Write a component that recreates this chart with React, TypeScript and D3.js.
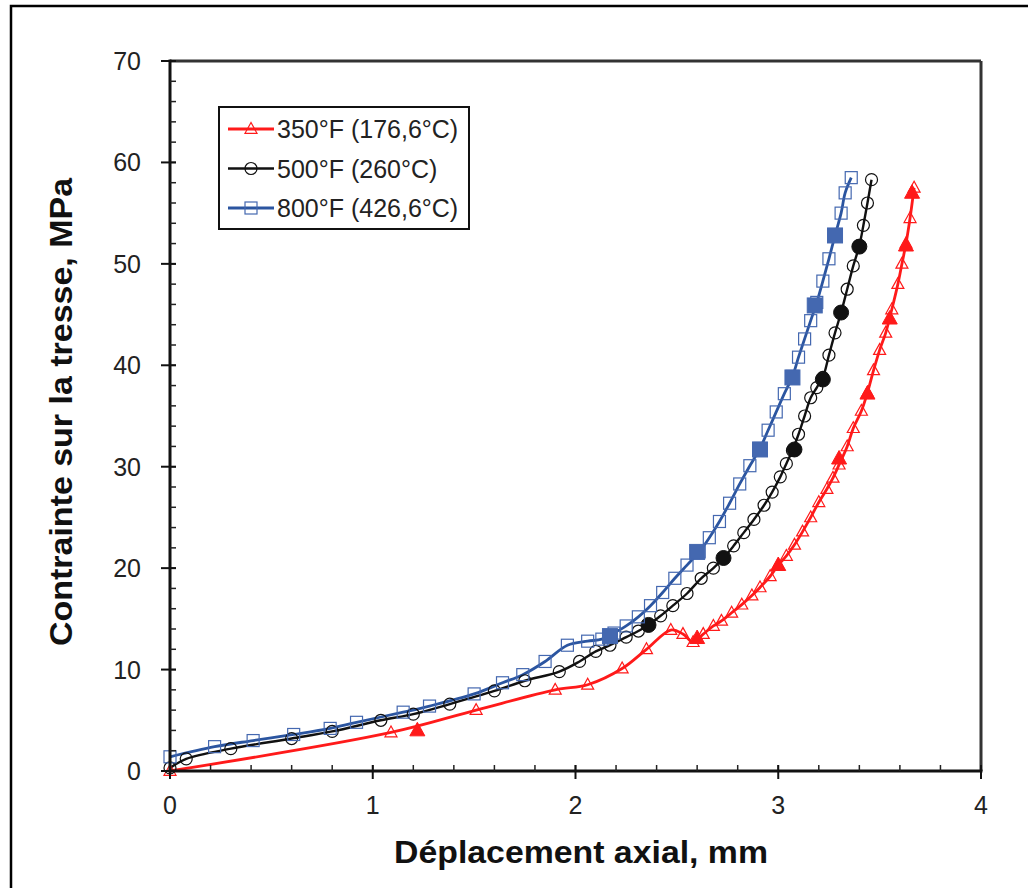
import React from "react";
import * as d3 from "d3";

// ---- Data ----
const xTicks = [0, 1, 2, 3, 4];
const yTicks = [0, 10, 20, 30, 40, 50, 60, 70];
const xTitle = "Déplacement axial, mm";
const yTitle = "Contrainte sur la tresse, MPa";
const seriesNames = ["350°F (176,6°C)", "500°F (260°C)", "800°F (426,6°C)"];

const red350Open: [number, number][] = [
  [0, 0], [1.09, 3.8], [1.51, 6.0], [1.9, 8.0], [2.06, 8.5], [2.23, 10.1], [2.35, 12.0],
  [2.47, 13.9], [2.53, 13.5], [2.58, 12.7], [2.63, 13.5], [2.68, 14.3], [2.72, 14.8],
  [2.77, 15.6], [2.82, 16.4], [2.87, 17.3], [2.91, 18.1], [2.96, 19.2], [3.0, 20.3],
  [3.04, 21.2], [3.08, 22.3], [3.12, 23.6], [3.16, 25.0], [3.2, 26.5], [3.24, 27.8],
  [3.27, 28.9], [3.3, 30.2], [3.34, 32.0], [3.37, 33.8], [3.41, 35.5], [3.44, 37.3],
  [3.47, 39.5], [3.5, 41.5], [3.53, 43.2], [3.56, 45.5], [3.59, 48.0], [3.61, 50.0],
  [3.63, 52.0], [3.65, 54.5], [3.67, 57.5],
];
const red350Filled: [number, number][] = [
  [1.22, 4.0], [2.6, 13.1], [3.0, 20.3], [3.3, 30.8], [3.44, 37.2], [3.55, 44.6], [3.63, 51.8], [3.66, 57.0],
];

const black500Open: [number, number][] = [
  [0, 0.3], [0.08, 1.2], [0.3, 2.2], [0.6, 3.2], [0.8, 3.9], [1.04, 5.0], [1.2, 5.6],
  [1.38, 6.6], [1.6, 7.9], [1.75, 8.9], [1.92, 9.8], [2.02, 10.8], [2.1, 11.8], [2.17, 12.4],
  [2.25, 13.2], [2.31, 13.8], [2.36, 14.4], [2.42, 15.3], [2.48, 16.3], [2.55, 17.5],
  [2.62, 19.0], [2.68, 20.0], [2.73, 21.0], [2.78, 22.2], [2.83, 23.5], [2.88, 24.8],
  [2.93, 26.2], [2.97, 27.5], [3.01, 29.0], [3.04, 30.3], [3.07, 31.6], [3.1, 33.2],
  [3.13, 35.0], [3.16, 36.8], [3.19, 37.8], [3.22, 38.8], [3.25, 41.0], [3.28, 43.2],
  [3.31, 45.2], [3.34, 47.5], [3.37, 49.8], [3.4, 51.8], [3.42, 53.8], [3.44, 56.0], [3.46, 58.3],
];
const black500Filled: [number, number][] = [
  [2.36, 14.4], [2.73, 21.0], [3.08, 31.7], [3.22, 38.6], [3.31, 45.2], [3.4, 51.7],
];

const blue800Open: [number, number][] = [
  [0, 1.4], [0.22, 2.4], [0.41, 3.0], [0.61, 3.6], [0.79, 4.2], [0.92, 4.8], [1.15, 5.8],
  [1.28, 6.4], [1.5, 7.6], [1.64, 8.7], [1.74, 9.5], [1.85, 10.8], [1.96, 12.4], [2.06, 12.8],
  [2.13, 13.0], [2.19, 13.6], [2.25, 14.3], [2.31, 15.2], [2.37, 16.3], [2.43, 17.6],
  [2.49, 19.0], [2.55, 20.3], [2.61, 21.6], [2.66, 23.0], [2.71, 24.6], [2.76, 26.4],
  [2.81, 28.3], [2.86, 30.1], [2.91, 31.8], [2.95, 33.6], [2.99, 35.4], [3.03, 37.2],
  [3.07, 38.9], [3.1, 40.8], [3.13, 42.6], [3.16, 44.4], [3.19, 46.2], [3.22, 48.3],
  [3.25, 50.5], [3.28, 52.8], [3.31, 55.0], [3.33, 57.0], [3.36, 58.5],
];
const blue800Filled: [number, number][] = [
  [2.17, 13.3], [2.6, 21.6], [2.91, 31.7], [3.07, 38.8], [3.18, 45.9], [3.28, 52.8],
];

// ---- Layout ----
const W = 1028, H = 888;
const x = d3.scaleLinear().domain([0, 4]).range([170, 981]);
const y = d3.scaleLinear().domain([0, 70]).range([771, 61]);

const RED = "#ff1a1a";
const BLACK = "#111111";
const BLUE = "#2b55a0";
const BLUE_MK = "#4468b0";

type Shape = "tri" | "circ" | "sq";

function Marker({ cx, cy, shape, color, size, filled }: { cx: number; cy: number; shape: Shape; color: string; size: number; filled: boolean }) {
  const fill = filled ? color : "none";
  const sw = filled ? 1 : 1.2;
  if (shape === "tri") {
    const h = size * 0.9;
    const pts = `${cx},${cy - h * 0.6} ${cx - size / 2},${cy + h * 0.4} ${cx + size / 2},${cy + h * 0.4}`;
    return <polygon points={pts} fill={fill} stroke={color} strokeWidth={sw} />;
  }
  if (shape === "circ") return <circle cx={cx} cy={cy} r={size / 2} fill={fill} stroke={color} strokeWidth={sw} />;
  return <rect x={cx - size / 2} y={cy - size / 2} width={size} height={size} fill={fill} stroke={color} strokeWidth={sw} />;
}

const series = [
  { name: seriesNames[0], open: red350Open, filled: red350Filled, line: RED, mk: RED, shape: "tri" as Shape, lw: 2.8 },
  { name: seriesNames[1], open: black500Open, filled: black500Filled, line: BLACK, mk: BLACK, shape: "circ" as Shape, lw: 2.4 },
  { name: seriesNames[2], open: blue800Open, filled: blue800Filled, line: BLUE, mk: BLUE_MK, shape: "sq" as Shape, lw: 2.8 },
];

export default function App() {
  const lineGen = d3.line<[number, number]>().x((d) => x(d[0])).y((d) => y(d[1])).curve(d3.curveCatmullRom.alpha(0.5));
  const xMinor = d3.range(0, 4.0001, 0.2);
  const yMinor = d3.range(0, 70.0001, 2);
  const font = "'Liberation Sans', Arial, sans-serif";
  const [x0, x1] = x.range();
  const [y0, y1] = y.range();
  return (
    <svg width={W} height={H} style={{ position: "absolute", left: 0, top: 0, background: "#fff" }} fontFamily={font}>
      <rect x={0} y={0} width={W} height={H} fill="#fff" />
      {/* outer frame */}
      <rect x={11} y={6} width={W + 20} height={H + 20} fill="none" stroke="#000" strokeWidth={2.5} />

      {/* series lines */}
      {series.map((s) => (
        <path key={s.name + "l"} d={lineGen(s.open) || ""} fill="none" stroke={s.line} strokeWidth={s.lw} />
      ))}
      {series.map((s) => (
        <g key={s.name + "m"}>
          {s.open.map((d, i) => (
            <Marker key={i} cx={x(d[0])} cy={y(d[1])} shape={s.shape} color={s.mk} size={12} filled={false} />
          ))}
          {s.filled.map((d, i) => (
            <Marker key={"f" + i} cx={x(d[0])} cy={y(d[1])} shape={s.shape} color={s.mk} size={15} filled={true} />
          ))}
        </g>
      ))}

      {/* plot frame */}
      <line x1={x0} x2={x1} y1={y1} y2={y1} stroke="#333" strokeWidth={3} />
      <line x1={x1} x2={x1} y1={y1} y2={y0} stroke="#333" strokeWidth={3} />
      <line x1={x0} x2={x0} y1={y0 + 1.5} y2={y1 - 1.5} stroke="#111" strokeWidth={3} />
      <line x1={x0 - 1.5} x2={x1 + 1.5} y1={y0} y2={y0} stroke="#111" strokeWidth={3} />

      {/* minor ticks (inside) */}
      {xMinor.map((v, i) => (
        <line key={"xm" + i} x1={x(v)} x2={x(v)} y1={y0} y2={y0 - 6} stroke="#222" strokeWidth={1.5} />
      ))}
      {yMinor.map((v, i) => (
        <line key={"ym" + i} x1={x0} x2={x0 + 6} y1={y(v)} y2={y(v)} stroke="#222" strokeWidth={1.5} />
      ))}
      {/* major ticks */}
      {xTicks.map((v) => (
        <g key={"xt" + v}>
          <line x1={x(v)} x2={x(v)} y1={y0 - 6} y2={y0 + 8} stroke="#111" strokeWidth={2} />
          <text x={x(v)} y={y0 + 43} textAnchor="middle" fontSize={25} fill="#222">{v}</text>
        </g>
      ))}
      {yTicks.map((v) => (
        <g key={"yt" + v}>
          <line x1={x0 - 9} x2={x0 + 6} y1={y(v)} y2={y(v)} stroke="#111" strokeWidth={2} />
          <text x={x0 - 29} y={y(v) + 9} textAnchor="end" fontSize={25} fill="#222">{v}</text>
        </g>
      ))}

      {/* axis titles */}
      <text x={581} y={863} textAnchor="middle" fontSize={32} fontWeight="bold" fill="#111" textLength={374} lengthAdjust="spacingAndGlyphs">{xTitle}</text>
      <text transform={`translate(72,412) rotate(-90)`} textAnchor="middle" fontSize={32} fontWeight="bold" fill="#111" textLength={468} lengthAdjust="spacingAndGlyphs">{yTitle}</text>

      {/* legend */}
      <rect x={219} y={107} width={250} height={122} fill="#fff" stroke="#111" strokeWidth={2} />
      {series.map((s, i) => {
        const ly = 129 + i * 39.5;
        return (
          <g key={"lg" + i}>
            <line x1={228} x2={274} y1={ly} y2={ly} stroke={s.line} strokeWidth={s.lw} />
            <Marker cx={251} cy={ly} shape={s.shape} color={s.mk} size={12} filled={false} />
            <text x={277} y={ly + 9} fontSize={25} fill="#222">{s.name}</text>
          </g>
        );
      })}
    </svg>
  );
}
